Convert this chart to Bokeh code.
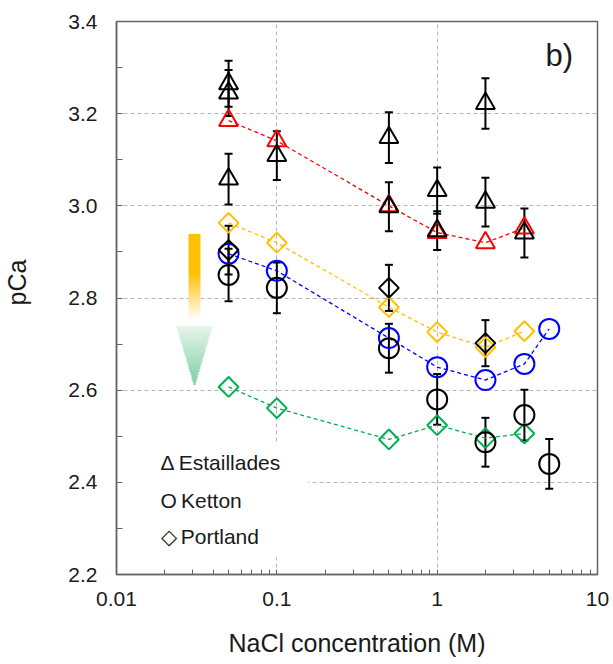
import numpy as np
from bokeh.plotting import figure
from bokeh.models import (ColumnDataSource, Whisker, TeeHead, FixedTicker, PrintfTickFormatter,
                          Label, BoxAnnotation, Range1d, Title)
from bokeh.embed import file_html
from bokeh.resources import INLINE

FONT = "Liberation Sans"

# ---------------- data ----------------
# Estaillades (black, with error bars)
est_x = [0.05, 0.05, 0.05, 0.1, 0.5, 0.5, 1, 1, 2, 2, 3.5]
est_y = [3.265, 3.245, 3.058, 3.109, 3.148, 2.998, 3.033, 2.946, 3.222, 3.008, 2.941]
est_err = [0.05, 0.05, 0.055, 0.053, 0.055, 0.053, 0.05, 0.042, 0.055, 0.053, 0.053]
# Estaillades model (red)
est_line_x = [0.05, 0.1, 0.5, 1, 2, 3.5]
est_line_y = [3.185, 3.141, 3.0, 2.942, 2.92, 2.952]

# Ketton (black, with error bars)
ket_x = [0.05, 0.1, 0.5, 1, 2, 3.5, 5]
ket_y = [2.85, 2.822, 2.691, 2.58, 2.487, 2.546, 2.44]
ket_err = [0.057, 0.055, 0.053, 0.055, 0.053, 0.055, 0.054]
# Ketton model (blue)
ket_line_x = [0.05, 0.1, 0.5, 1, 2, 3.5, 5]
ket_line_y = [2.896, 2.859, 2.713, 2.65, 2.622, 2.657, 2.733]

# Portland (black, with error bars)
por_x = [0.05, 0.5, 2]
por_y = [2.904, 2.822, 2.702]
por_err = [0.053, 0.05, 0.05]
# Portland models (orange, green)
por_line_x = [0.05, 0.1, 0.5, 1, 2, 3.5]
por_orange_y = [2.963, 2.92, 2.78, 2.726, 2.693, 2.728]
por_green_y = [2.607, 2.561, 2.493, 2.524, 2.496, 2.506]

# legend entries
LEGEND_TEXT = ["\u0394\u2009Estaillades", "O\u2009Ketton", "\u25C7\u2009Portland"]

# axes
X_TICKS = [0.01, 0.1, 1, 10]
X_TICK_LABELS = ["0.01", "0.1", "1", "10"]
X_MINOR = [m * 10.0 ** e for e in (-2, -1, 0) for m in range(2, 10)]
Y_TICKS = [2.2, 2.4, 2.6, 2.8, 3.0, 3.2, 3.4]
Y_MINOR = [2.3, 2.5, 2.7, 2.9, 3.1, 3.3]
X_GRID = [0.1, 1]
Y_GRID = [2.4, 2.6, 2.8, 3.0, 3.2]

# decorative gradient arrow (data-space bounding box)
ARROW_X = [0.0233, 0.0403]
ARROW_Y = [2.6065, 2.939]

RED, BLUE, ORANGE, GREEN = "#FF0000", "#0000FF", "#FFC000", "#00B050"
FRAME = "#666666"
TXT = "#1a1a1a"

p = figure(width=613, height=664, x_axis_type="log",
           x_range=Range1d(0.01, 10), y_range=Range1d(2.2, 3.4),
           output_backend="svg", toolbar_location=None,
           min_border_left=116, min_border_right=16, min_border_top=21, min_border_bottom=90)
p.background_fill_color = "white"
p.border_fill_color = "white"
p.outline_line_color = FRAME
p.outline_line_width = 1.5

# grid
p.xgrid.ticker = FixedTicker(ticks=X_GRID)
p.ygrid.ticker = FixedTicker(ticks=Y_GRID)
for g in (p.xgrid, p.ygrid):
    g.grid_line_color = "#b5b5b5"
    g.grid_line_dash = "4 3"
    g.grid_line_width = 1

# axes
p.xaxis.ticker = FixedTicker(ticks=X_TICKS, minor_ticks=X_MINOR)
p.xaxis.major_label_overrides = {t: s for t, s in zip(X_TICKS, X_TICK_LABELS)}
p.yaxis.ticker = FixedTicker(ticks=Y_TICKS, minor_ticks=Y_MINOR)
p.yaxis.formatter = PrintfTickFormatter(format="%.1f")
for ax in (p.xaxis, p.yaxis):
    ax.axis_line_color = FRAME
    ax.axis_line_width = 1.5
    ax.major_tick_line_color = FRAME
    ax.minor_tick_line_color = FRAME
    ax.major_tick_out = 0
    ax.minor_tick_out = 0
    ax.major_label_text_font = FONT
    ax.major_label_text_font_size = "21px"
    ax.major_label_text_color = TXT
    ax.axis_label_text_font = FONT
    ax.axis_label_text_font_style = "normal"
    ax.axis_label_text_font_size = "25px"
    ax.axis_label_text_color = TXT
p.xaxis.major_tick_in = 5
p.xaxis.minor_tick_in = 5
p.yaxis.major_tick_in = 6
p.yaxis.minor_tick_in = 6
p.xaxis.major_label_standoff = 17
p.yaxis.major_label_standoff = 19
p.xaxis.axis_label = "NaCl concentration (M)"
p.xaxis.axis_label_standoff = 20

# y-axis title, placed outside the tick labels (a little above centre, as in the original)
ytitle = Title(text="pCa", align="left", offset=269, standoff=2,
               text_font=FONT, text_font_size="25px", text_font_style="normal",
               text_color=TXT)
try:
    ytitle.padding = dict(left=0, right=0, top=0, bottom=34)
except Exception:
    ytitle.standoff = 30
p.add_layout(ytitle, "left")

# white area behind legend
p.add_layout(BoxAnnotation(left=6, right=192, bottom=17, top=131,
                           left_units="screen", right_units="screen",
                           bottom_units="screen", top_units="screen",
                           fill_color="white", fill_alpha=1, line_color=None, level="underlay"))

# gradient arrow as an RGBA image
H, W = 153, 38
img = np.zeros((H, W), dtype=np.uint32)
view = img.view(dtype=np.uint8).reshape((H, W, 4))
orange = np.array([255, 192, 0], float)
white = np.array([255, 255, 255], float)
g_top = np.array([232, 246, 238], float)
g_tip = np.array([120, 206, 158], float)
for r in range(H):
    v = 1.0 - (r + 0.5) / H  # 0 at top, 1 at tip
    for c in range(W):
        u = (c + 0.5) / W
        d = abs(u - 0.5)
        col = None
        if v <= 0.56 and d <= 0.145:
            t = min(1.0, max(0.0, (v - 0.25) / (0.56 - 0.25)))
            col = orange * (1 - t) + white * t
        elif v >= 0.6:
            t = (v - 0.6) / 0.4
            hw = 0.48 * (1 - t)
            if d <= hw:
                col = g_top * (1 - t) + g_tip * t
        if col is not None:
            view[r, c, 0:3] = col.astype(np.uint8)
            view[r, c, 3] = 255
p.image_rgba(image=[img], x=ARROW_X[0], y=ARROW_Y[0],
             dw=ARROW_X[1] - ARROW_X[0], dh=ARROW_Y[1] - ARROW_Y[0])

DASH = "4 3"
# model series (coloured, dashed)
p.line(est_line_x, est_line_y, line_color=RED, line_dash=DASH, line_width=1.3)
p.line(ket_line_x, ket_line_y, line_color=BLUE, line_dash=DASH, line_width=1.3)
p.line(por_line_x, por_orange_y, line_color=ORANGE, line_dash=DASH, line_width=1.3)
p.line(por_line_x, por_green_y, line_color=GREEN, line_dash=DASH, line_width=1.3)
p.scatter(est_line_x, est_line_y, marker="triangle", size=19, fill_color=None, line_color=RED, line_width=2)
p.scatter(ket_line_x, ket_line_y, marker="circle", size=20, fill_color=None, line_color=BLUE, line_width=2)
p.scatter(por_line_x, por_orange_y, marker="square", angle=np.pi / 4, size=14, fill_color=None,
          line_color=ORANGE, line_width=2)
p.scatter(por_line_x, por_green_y, marker="square", angle=np.pi / 4, size=14, fill_color=None,
          line_color=GREEN, line_width=2)


def add_errors(xs, ys, errs):
    src = ColumnDataSource(dict(x=xs, lo=[y - e for y, e in zip(ys, errs)],
                                hi=[y + e for y, e in zip(ys, errs)]))
    w = Whisker(source=src, base="x", lower="lo", upper="hi", dimension="height",
                line_color="black", line_width=2,
                upper_head=TeeHead(size=8, line_color="black", line_width=2),
                lower_head=TeeHead(size=8, line_color="black", line_width=2))
    p.add_layout(w)


add_errors(est_x, est_y, est_err)
add_errors(ket_x, ket_y, ket_err)
add_errors(por_x, por_y, por_err)

p.scatter(est_x, est_y, marker="triangle", size=19, fill_color=None, line_color="black", line_width=2)
p.scatter(ket_x, ket_y, marker="circle", size=20, fill_color=None, line_color="black", line_width=2)
p.scatter(por_x, por_y, marker="square", angle=np.pi / 4, size=14, fill_color=None,
          line_color="black", line_width=2)

# legend (text with symbols, as in the original)
for text, yb in zip(LEGEND_TEXT, [112, 74, 38]):
    p.add_layout(Label(x=44, y=yb, x_units="screen", y_units="screen", text=text,
                       text_font=FONT, text_font_size="21px", text_color=TXT,
                       text_baseline="alphabetic"))

p.add_layout(Label(x=429, y=519, x_units="screen", y_units="screen", text="b)",
                   text_font=FONT, text_font_size="31px", text_color=TXT,
                   text_baseline="alphabetic"))

open("out.html", "w").write(file_html(p, INLINE))
